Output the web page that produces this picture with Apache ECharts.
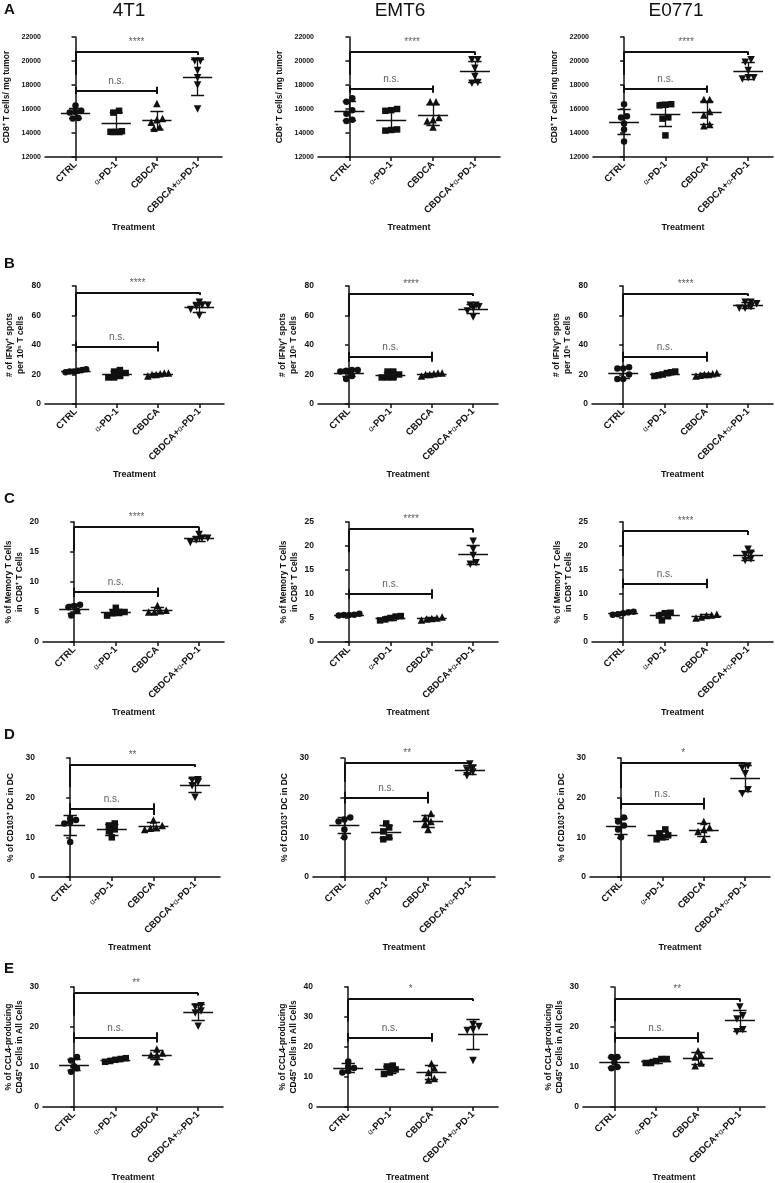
<!DOCTYPE html>
<html>
<head>
<meta charset="utf-8">
<script src="https://cdn.jsdelivr.net/npm/echarts@6/dist/echarts.min.js"></script>
<style>
  html, body { margin: 0; background: #fff; }
  #main { width: 775px; height: 1183px; }
</style>
</head>
<body>
<div id="main"></div>
<script>
const groups = ['CTRL', 'α-PD-1', 'CBDCA', 'CBDCA+α-PD-1']
const models = ['4T1', 'EMT6', 'E0771']

// A  CD8+ T cells / mg tumor  (CTRL, a-PD-1, CBDCA, CBDCA+a-PD-1)
const cd8_4T1 = [[15850, 15700, 15750, 16300, 15200, 15250], [15700, 15850, 14100, 14100, 14150], [16450, 14900, 15100, 15200, 14400, 14500], [20000, 20000, 19200, 18600, 18000, 16000]]
const cd8_EMT6 = [[16600, 16900, 15900, 15600, 15100, 15000], [15900, 16000, 15850, 14300, 14200, 14250], [16600, 16600, 15300, 15100, 15000, 14500], [20100, 20100, 19400, 18700, 18150, 18200]]
const cd8_E0771 = [[16400, 15300, 15400, 14800, 14300, 13300], [16400, 16300, 16350, 15300, 15200, 13800], [16800, 16800, 15800, 15500, 14600, 14700], [19900, 20100, 19200, 18600, 18500, 18600]]
// B  IFNg+ spots per 10^5 T cells
const ifn_4T1 = [[22, 23, 23.5, 22, 21.5, 22.5], [22, 23, 21, 18, 18, 19], [21, 20, 20.5, 19, 20, 21], [67, 69, 66, 64, 67, 60]]
const ifn_EMT6 = [[23, 22.5, 22, 23, 19, 17], [22, 22, 18, 20, 18, 18], [21, 20.5, 20, 19, 20, 21], [67, 66, 65, 67, 63, 59]]
const ifn_E0771 = [[25, 24, 24, 20, 17, 17], [22, 21.5, 21, 20, 19, 19.5], [20, 21, 20, 20.5, 19.5, 19], [69, 68, 69, 66, 65, 65]]
// C  % memory T cells in CD8+ T cells
const mem_4T1 = [[6.2, 5.2, 5.8, 6.0, 4.4], [5.0, 5.7, 4.4, 4.8, 5.0], [5.0, 6.1, 5.2, 5.0, 5.3], [17.3, 17.9, 16.6, 17.3, 17.0]]
const mem_EMT6 = [[5.9, 5.6, 5.5, 5.6, 5.7], [5.3, 4.7, 4.5, 5.0, 5.4], [5.2, 4.8, 4.6, 4.9, 5.0], [21.0, 19.3, 18.0, 16.5, 16.2]]
const mem_E0771 = [[6.2, 5.8, 6.0, 6.3, 5.7], [6.0, 5.4, 4.5, 5.5, 6.1], [5.8, 5.2, 5.0, 5.5, 5.6], [19.3, 18.2, 17.3, 18.5, 17.0]]
// D  % CD103+ DC in DC
const cd103_4T1 = [[14.8, 13.5, 13.8, 14.4, 8.8], [13.5, 13.0, 11.5, 10.0, 12.0], [14.4, 12.5, 12.3, 12.0, 13.0], [24.4, 24.5, 23.8, 23.0, 20.1]]
const cd103_EMT6 = [[15.0, 14.0, 14.5, 12.0, 10.0], [13.5, 12.5, 11.5, 10.0, 9.5], [16.0, 14.0, 13.5, 15.0, 12.0], [28.5, 27.5, 27.0, 26.5, 25.5]]
const cd103_E0771 = [[15.0, 13.0, 14.0, 12.0, 10.0], [12.0, 11.0, 10.0, 9.5, 10.5], [14.0, 12.0, 11.5, 9.5, 12.5], [28.0, 27.5, 26.0, 22.0, 21.0]]
// E  % CCL4-producing CD45+ cells in all cells
const ccl4_4T1 = [[12.5, 11.6, 10.2, 9.7, 8.8], [12.2, 11.5, 11.3, 11.8, 12.0], [14.5, 13.0, 11.3, 13.5, 13.0], [25.3, 24.0, 23.5, 25.0, 20.2]]
const ccl4_EMT6 = [[13.5, 15.2, 13.0, 11.5, 12.0], [13.5, 12.5, 11.0, 13.8, 11.5], [14.5, 11.5, 9.5, 13.0, 9.0], [27.5, 25.5, 25.8, 26.8, 15.5]]
const ccl4_E0771 = [[12.5, 11.2, 12.5, 9.7, 10.0], [12.0, 11.5, 11.0, 11.0, 12.0], [14.0, 13.0, 11.0, 10.3, 12.5], [25.0, 22.8, 22.0, 19.3, 18.8]]

// significance labels per row (4T1, EMT6, E0771)
const sigA = ['****', '****', '****']
const sigB = ['****', '****', '****']
const sigC = ['****', '****', '****']
const sigD = ['**', '**', '*']
const sigE = ['**', '*', '**']

const font = 'Liberation Sans, Arial, sans-serif'
const ink = '#111'

// layout: each row -> axis settings, grid top/height, axis x-extent per column,
// bracket levels [outer bar, left leg end, right leg end, inner bar, inner leg half]
const rows = [
  {letter: 'A', letterY: 10, sets: [cd8_4T1, cd8_EMT6, cd8_E0771], sig: sigA, top: 37, height: 120,
    yName: 'CD8⁺ T cells/ mg tumor', nameGap: 33, tickFont: 7,
    axes: [[12000, 22000, 2000], [12000, 22000, 2000], [12000, 22000, 2000]],
    xs: [[45, 222], [318, 500], [593, 773]],
    br: [[20800, 18850, 20500, 17550, 300], [20800, 18850, 20500, 17650, 300], [20800, 18850, 20500, 17650, 300]]},
  {letter: 'B', letterY: 264, sets: [ifn_4T1, ifn_EMT6, ifn_E0771], sig: sigB, top: 286, height: 118,
    yName: '# of IFNγ⁺ spots\nper 10⁵ T cells', nameGap: 19, tickFont: 8.5,
    axes: [[0, 80, 20], [0, 80, 20], [0, 80, 20]],
    xs: [[45, 224], [318, 498], [592, 773]],
    br: [[75.7, 59.7, 73.9, 39, 3.4], [74.9, 59.4, 73.2, 32, 3.4], [75, 59.5, 73.2, 32, 3.4]]},
  {letter: 'C', letterY: 499, sets: [mem_4T1, mem_EMT6, mem_E0771], sig: sigC, top: 522, height: 120,
    yName: '% of Memory T Cells\nin CD8⁺ T Cells', nameGap: 16, tickFont: 8.5,
    axes: [[0, 20, 5], [0, 25, 5], [0, 25, 5]],
    xs: [[43, 224], [318, 498], [592, 773]],
    br: [[19.2, 15.2, 18.3, 8.3, 0.8], [23.6, 18.7, 22.8, 10, 1.0], [23.1, 17.9, 22.3, 12.2, 1.0]]},
  {letter: 'D', letterY: 735, sets: [cd103_4T1, cd103_EMT6, cd103_E0771], sig: sigD, top: 758, height: 119,
    yName: '% of CD103⁺ DC in DC', nameGap: 23, tickFont: 8.5,
    axes: [[0, 30, 10], [0, 30, 10], [0, 30, 10]],
    xs: [[39, 220], [313, 495], [590, 770]],
    br: [[28.4, 22.7, 27.7, 17.1, 1.5], [28.7, 24, 28, 20, 1.5], [28.7, 22.4, 28, 18.5, 1.5]]},
  {letter: 'E', letterY: 969, sets: [ccl4_4T1, ccl4_EMT6, ccl4_E0771], sig: sigE, top: 987, height: 120,
    yName: '% of CCL4-producing\nCD45⁺ Cells in All Cells', nameGap: 17, tickFont: 8.5,
    axes: [[0, 30, 10], [0, 40, 10], [0, 30, 10]],
    xs: [[43, 223], [317, 498], [583, 765]],
    br: [[28.5, 22.8, 27.9, 17.4, 1.3], [36.1, 28.5, 35.3, 23.2, 1.45], [27.1, 21.4, 26.3, 17.4, 1.3]]}
]

const symbols = [
  {symbol: 'circle', size: 6.5, rotate: 0},
  {symbol: 'rect', size: 6.5, rotate: 0},
  {symbol: 'triangle', size: 7.5, rotate: 0},
  {symbol: 'triangle', size: 7.5, rotate: 180}
]

function mean(a) {
  return a.reduce((s, v) => s + v, 0) / a.length
}

function sd(a) {
  const m = mean(a)
  return Math.sqrt(a.reduce((s, v) => s + (v - m) * (v - m), 0) / (a.length - 1))
}

// spread points with close values side by side, like a column scatter
function jitter(vals, tol) {
  const idx = vals.map((v, i) => i).sort((a, b) => vals[a] - vals[b])
  const off = new Array(vals.length).fill(0)
  let start = 0
  while (start < idx.length) {
    let end = start
    while (end + 1 < idx.length && vals[idx[end + 1]] - vals[idx[start]] < tol) end++
    const k = end - start + 1
    const step = k > 1 ? Math.min(0.14, 0.5 / (k - 1)) : 0
    for (let j = 0; j < k; j++) off[idx[start + j]] = (j - (k - 1) / 2) * step
    start = end + 1
  }
  return off
}

const grid = [], xAxis = [], yAxis = [], series = [], graphic = []

rows.forEach(function(row) {
  graphic.push({type: 'text', x: 4, y: row.letterY, style: {text: row.letter, font: 'bold 15px ' + font, fill: ink, verticalAlign: 'middle'}})
  for (let c = 0; c < 3; c++) {
    const gi = grid.length
    const [x0, x1] = row.xs[c]
    const [ymin, ymax, step] = row.axes[c]
    const data = row.sets[c]
    const b = row.br[c]
    grid.push({left: x0, top: row.top, width: x1 - x0, height: row.height})
    xAxis.push({
      gridIndex: gi, type: 'value', min: -0.75, max: 3.6,
      name: 'Treatment', nameLocation: 'middle', nameGap: 66,
      nameTextStyle: {fontFamily: font, fontWeight: 'bold', fontSize: 9, color: ink},
      splitLine: {show: false},
      axisLine: {lineStyle: {color: ink, width: 1.5}},
      axisTick: {customValues: [0, 1, 2, 3], length: 4, lineStyle: {color: ink, width: 1.5}},
      axisLabel: {
        customValues: [0, 1, 2, 3], rotate: 45, margin: 6,
        fontFamily: font, fontWeight: 'bold', fontSize: 9.5, color: ink,
        formatter: v => groups[v].replace('α', '{g|α}'),
        rich: {g: {fontFamily: font, fontSize: 8, fontWeight: 'normal', color: ink}}
      }
    })
    yAxis.push({
      gridIndex: gi, type: 'value', min: ymin, max: ymax, interval: step,
      name: row.yName, nameLocation: 'middle', nameGap: row.nameGap,
      nameTextStyle: {fontFamily: font, fontWeight: 'bold', fontSize: 8.5, lineHeight: 11, color: ink},
      splitLine: {show: false},
      axisLine: {show: true, lineStyle: {color: ink, width: 1.5}},
      axisTick: {show: true, length: 4, lineStyle: {color: ink, width: 1.5}},
      axisLabel: {fontFamily: font, fontWeight: 'bold', fontSize: row.tickFont, color: ink, margin: 4, formatter: v => String(v)}
    })

    const tol = 0.04 * (ymax - ymin)
    const segs = []
    data.forEach(function(vals, g) {
      const off = jitter(vals, tol)
      series.push({
        type: 'scatter', xAxisIndex: gi, yAxisIndex: gi,
        symbol: symbols[g].symbol, symbolSize: symbols[g].size, symbolRotate: symbols[g].rotate,
        itemStyle: {color: ink, opacity: 1},
        data: vals.map((v, i) => [g + off[i], v]),
        z: 3
      })
      const m = mean(vals), s = sd(vals)
      segs.push([[g - 0.36, m], [g + 0.36, m]])
      segs.push([[g - 0.16, m + s], [g + 0.16, m + s]])
      segs.push([[g - 0.16, m - s], [g + 0.16, m - s]])
      segs.push([[g, m - s], [g, m + s]])
    })
    series.push({
      type: 'lines', coordinateSystem: 'cartesian2d', xAxisIndex: gi, yAxisIndex: gi,
      lineStyle: {color: ink, width: 1.3, opacity: 1},
      data: segs.map(p => ({coords: p})), z: 4
    })
    // significance brackets
    const brk = [
      [[0, b[1]], [0, b[0]]], [[0, b[0]], [3, b[0]]], [[3, b[0]], [3, b[2]]],
      [[0, b[3] - b[4]], [0, b[3] + b[4]]], [[0, b[3]], [2, b[3]]], [[2, b[3] - b[4]], [2, b[3] + b[4]]]
    ]
    series.push({
      type: 'lines', coordinateSystem: 'cartesian2d', xAxisIndex: gi, yAxisIndex: gi,
      lineStyle: {color: ink, width: 2, opacity: 1},
      data: brk.map(p => ({coords: p})), z: 4
    })
    series.push({
      type: 'scatter', xAxisIndex: gi, yAxisIndex: gi, symbolSize: 1,
      itemStyle: {color: 'rgba(0,0,0,0)'},
      label: {show: true, position: 'top', distance: 4, fontFamily: font, color: '#333', formatter: p => p.data[2], fontSize: 10},
      data: [[1.5, b[0], row.sig[c]], [1, b[3], 'n.s.']],
      z: 5
    })
  }
})

const titleX = [129, 400, 676]
models.forEach(function(m, i) {
  graphic.push({type: 'text', x: titleX[i], y: 11, style: {text: m, font: '19px ' + font, fill: ink, align: 'center', verticalAlign: 'middle'}})
})

const chart = echarts.init(document.getElementById('main'))
chart.setOption({
  animation: false,
  backgroundColor: '#fff',
  grid: grid,
  xAxis: xAxis,
  yAxis: yAxis,
  series: series,
  graphic: graphic
})
window.addEventListener('resize', function() {
  chart.resize()
})
</script>
</body>
</html>
